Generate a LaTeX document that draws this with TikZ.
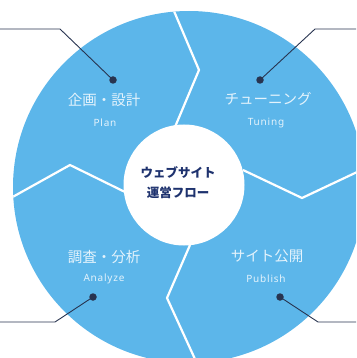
\documentclass[tikz,border=0pt]{standalone}
\usepackage{fontspec}
\newfontfamily\jp{Noto Sans CJK JP}
\newfontfamily\en[LetterSpace=8]{Noto Sans}
\definecolor{wheel}{RGB}{92,182,234}
\definecolor{lbl}{RGB}{228,243,252}
\definecolor{navy}{RGB}{30,50,110}
\definecolor{lead}{RGB}{40,52,80}
\tikzset{
  jlabel/.style={text=lbl, font=\jp\fontsize{14.5}{15}\selectfont, inner sep=0pt},
  elabel/.style={text=lbl, font=\en\bfseries\fontsize{10}{10}\selectfont, inner sep=0pt},
  dotnode/.style={circle, fill=lead, draw=none, minimum size=7.5pt, inner sep=0pt},
  leader/.style={draw=lead, line width=0.9pt},
  sep/.style={draw=white, line width=2.2pt, line join=miter},
}
\begin{document}
\begin{tikzpicture}[x=1pt,y=-1pt]
\useasboundingbox (0,0) rectangle (356,358);
\clip (0,0) rectangle (356,358);
% wheel
\fill[wheel] (189,187) circle[radius=176];
\begin{scope}
  \clip (189,187) circle[radius=176];
  \draw[sep] (175,127) -- (199,70) -- (171,4);
  \draw[sep] (243,170) -- (302,198) -- (372,165);
  \draw[sep] (190,245) -- (167,298) -- (200,370);
  \draw[sep] (125,192) -- (70,165) -- (0,204);
\end{scope}
\fill[white] (184,185) circle[radius=60.5];
% center title
\node[text=navy, font=\jp\bfseries\fontsize{12.5}{20}\selectfont, align=center, inner sep=0pt] (title) at (178,183) {ウェブサイト\\運営フロー};
% labels
\node[jlabel] (plan) at (104,100) {企画・設計};
\node[elabel] (planen) at (105,123) {Plan};
\node[jlabel] (tun) at (268,99) {チューニング};
\node[elabel] (tunen) at (266,123) {Tuning};
\node[jlabel] (ana) at (104,257) {調査・分析};
\node[elabel] (anaen) at (104,279) {Analyze};
\node[jlabel] (pub) at (267,256) {サイト公開};
\node[elabel] (puben) at (266,279) {Publish};
% leaders
\node[dotnode] (d1) at (113,80) {};
\node[dotnode] (d2) at (260,80) {};
\node[dotnode] (d3) at (93,297) {};
\node[dotnode] (d4) at (280,297) {};
\coordinate (c1) at (60,29); \coordinate (e1) at (0,29);
\coordinate (c2) at (315,29); \coordinate (e2) at (356,29);
\coordinate (c3) at (55,322); \coordinate (e3) at (0,322);
\coordinate (c4) at (318,322); \coordinate (e4) at (356,322);
\draw[leader] (d1.center) -- (c1) -- (e1);
\draw[leader] (d2.center) -- (c2) -- (e2);
\draw[leader] (d3.center) -- (c3) -- (e3);
\draw[leader] (d4.center) -- (c4) -- (e4);
\end{tikzpicture}
\end{document}
